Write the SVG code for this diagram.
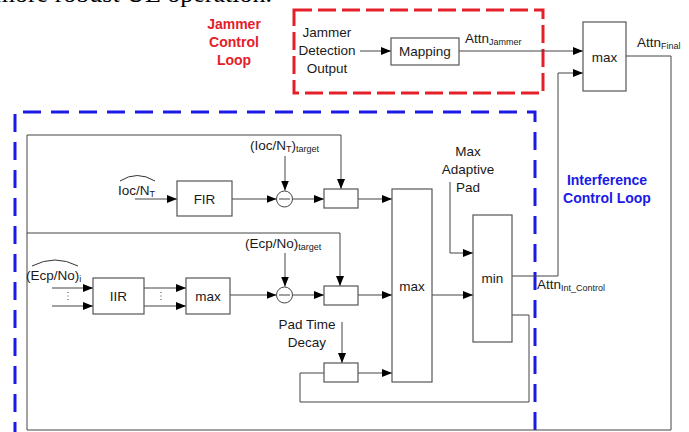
<svg xmlns="http://www.w3.org/2000/svg" width="689" height="432" viewBox="0 0 689 432">
<defs>
<marker id="ah" viewBox="0 0 10 8" refX="10" refY="4" markerWidth="10" markerHeight="8" markerUnits="userSpaceOnUse" orient="auto">
<path d="M0,0 L10,4 L0,8 z" fill="#000"/>
</marker>
<style>
.t{font-family:"Liberation Sans",Arial,sans-serif;font-size:13.5px;fill:#1a1a1a}
.s{font-size:9px}
.box{fill:#fff;stroke:#555;stroke-width:1.2}
.ln{fill:none;stroke:#444;stroke-width:1}
.arr{fill:none;stroke:#444;stroke-width:1;marker-end:url(#ah)}
.red{font-family:"Liberation Sans",Arial,sans-serif;font-size:14px;font-weight:bold;fill:#e3202a}
.blue{font-family:"Liberation Sans",Arial,sans-serif;font-size:14px;font-weight:bold;fill:#1a1ae6}
</style>
</defs>
<rect width="689" height="432" fill="#fff"/>
<text x="272" y="2" font-family="Liberation Serif,serif" font-size="26" text-anchor="end" fill="#000">more robust UE operation.</text>

<g id="jammer-loop">
<rect x="294" y="10" width="249" height="83" fill="none" stroke="#e3202a" stroke-width="3" stroke-dasharray="18,6"/>
<text class="red" text-anchor="middle"><tspan x="234" y="29">Jammer</tspan><tspan x="234" y="47">Control</tspan><tspan x="234" y="65">Loop</tspan></text>
</g>
<g id="interference-loop">
<path d="M15,440 V112 H535 V440" fill="none" stroke="#1a1ae6" stroke-width="3" stroke-dasharray="18,10"/>
<text class="blue" text-anchor="middle"><tspan x="607" y="185">Interference</tspan><tspan x="607" y="203">Control Loop</tspan></text>
</g>

<g id="connectors">
<path class="arr" d="M360,51 H391"/>
<path class="arr" d="M459,51 H583"/>
<path class="arr" d="M512,276 H558 V73 H583"/>
<path class="arr" d="M626,56 H671 V430 H27 V135 H341 V189"/>
<path class="arr" d="M27,233 H340 V286"/>
<path class="arr" d="M135,199 H177"/>
<path class="arr" d="M232,199 H276.5"/>
<path class="arr" d="M285,156 V190.5"/>
<path class="arr" d="M292.5,199 H324"/>
<path class="arr" d="M358,199 H392"/>
<path class="arr" d="M52,288 H93"/>
<path class="arr" d="M52,306 H93"/>
<path class="arr" d="M144,288 H186"/>
<path class="arr" d="M144,306 H186"/>
<path class="arr" d="M230,295 H276.5"/>
<path class="arr" d="M285,253 V286.5"/>
<path class="arr" d="M292.5,295 H324"/>
<path class="arr" d="M358,295 H392"/>
<path class="arr" d="M342,322 V363"/>
<path class="arr" d="M358,373 H392"/>
<path class="arr" d="M432,295 H473"/>
<path class="arr" d="M450,182 V253 H473"/>
<path class="ln" d="M512,315 H529 V402 H300 V373 H324"/>
<path d="M68,292 V302 M161,292 V302" stroke="#444" stroke-width="1" stroke-dasharray="1,2.5"/>
</g>

<g id="jammer-detection-output">
<text class="t" text-anchor="middle"><tspan x="327" y="37">Jammer</tspan><tspan x="327" y="55">Detection</tspan><tspan x="327" y="73">Output</tspan></text>
</g>
<g id="mapping">
<rect class="box" x="391" y="38" width="68" height="27"/>
<text class="t" x="425" y="56" text-anchor="middle">Mapping</text>
</g>
<g id="attn-jammer"><text class="t" x="465" y="43">Attn<tspan class="s" dy="2">Jammer</tspan></text></g>
<g id="max-final">
<rect class="box" x="583" y="22" width="43" height="69"/>
<text class="t" x="604.5" y="62" text-anchor="middle">max</text>
</g>
<g id="attn-final"><text class="t" x="637" y="47">Attn<tspan class="s" dy="2">Final</tspan></text></g>

<g id="ioc-nt">
<text class="t" x="118" y="195">Ioc/N<tspan class="s" dy="2">T</tspan></text>
<path d="M120,181 Q137,170 155,181" fill="none" stroke="#333" stroke-width="1"/>
</g>
<g id="fir">
<rect class="box" x="177" y="181" width="55" height="35"/>
<text class="t" x="204.5" y="204" text-anchor="middle">FIR</text>
</g>
<g id="ioc-target"><text class="t" x="250" y="150">(Ioc/N<tspan class="s" dy="2">T</tspan><tspan dy="-2">)</tspan><tspan class="s" dy="2">target</tspan></text></g>
<g id="sub1">
<circle cx="284.5" cy="199" r="8" fill="#fff" stroke="#444" stroke-width="1"/>
<path d="M279,199 H290" stroke="#444" stroke-width="1"/>
</g>
<g id="box1"><rect class="box" x="324" y="189" width="34" height="19"/></g>

<g id="ecp-no">
<text class="t" x="26" y="280">(Ecp/No)<tspan class="s" dy="2">i</tspan></text>
<path d="M32,266 Q55,254 78,266" fill="none" stroke="#333" stroke-width="1"/>
</g>
<g id="iir">
<rect class="box" x="93" y="278" width="51" height="36"/>
<text class="t" x="118.5" y="301" text-anchor="middle">IIR</text>
</g>
<g id="max2">
<rect class="box" x="186" y="278" width="44" height="36"/>
<text class="t" x="208" y="301" text-anchor="middle">max</text>
</g>
<g id="ecp-target"><text class="t" x="245" y="248">(Ecp/No)<tspan class="s" dy="2">target</tspan></text></g>
<g id="sub2">
<circle cx="284.5" cy="295" r="8" fill="#fff" stroke="#444" stroke-width="1"/>
<path d="M279,295 H290" stroke="#444" stroke-width="1"/>
</g>
<g id="box2"><rect class="box" x="324" y="286" width="34" height="19"/></g>

<g id="pad-time-decay"><text class="t" text-anchor="middle"><tspan x="307" y="329">Pad Time</tspan><tspan x="307" y="347">Decay</tspan></text></g>
<g id="box3"><rect class="box" x="324" y="363" width="34" height="19"/></g>

<g id="max-big">
<rect class="box" x="392" y="189" width="40" height="193"/>
<text class="t" x="412" y="291" text-anchor="middle">max</text>
</g>
<g id="max-adaptive-pad"><text class="t" text-anchor="middle"><tspan x="468" y="156">Max</tspan><tspan x="468" y="174">Adaptive</tspan><tspan x="468" y="192">Pad</tspan></text></g>
<g id="min">
<rect class="box" x="473" y="215" width="39" height="127"/>
<text class="t" x="492.5" y="283" text-anchor="middle">min</text>
</g>
<g id="attn-int"><text class="t" x="537" y="289">Attn<tspan class="s" dy="2">Int_Control</tspan></text></g>
</svg>
